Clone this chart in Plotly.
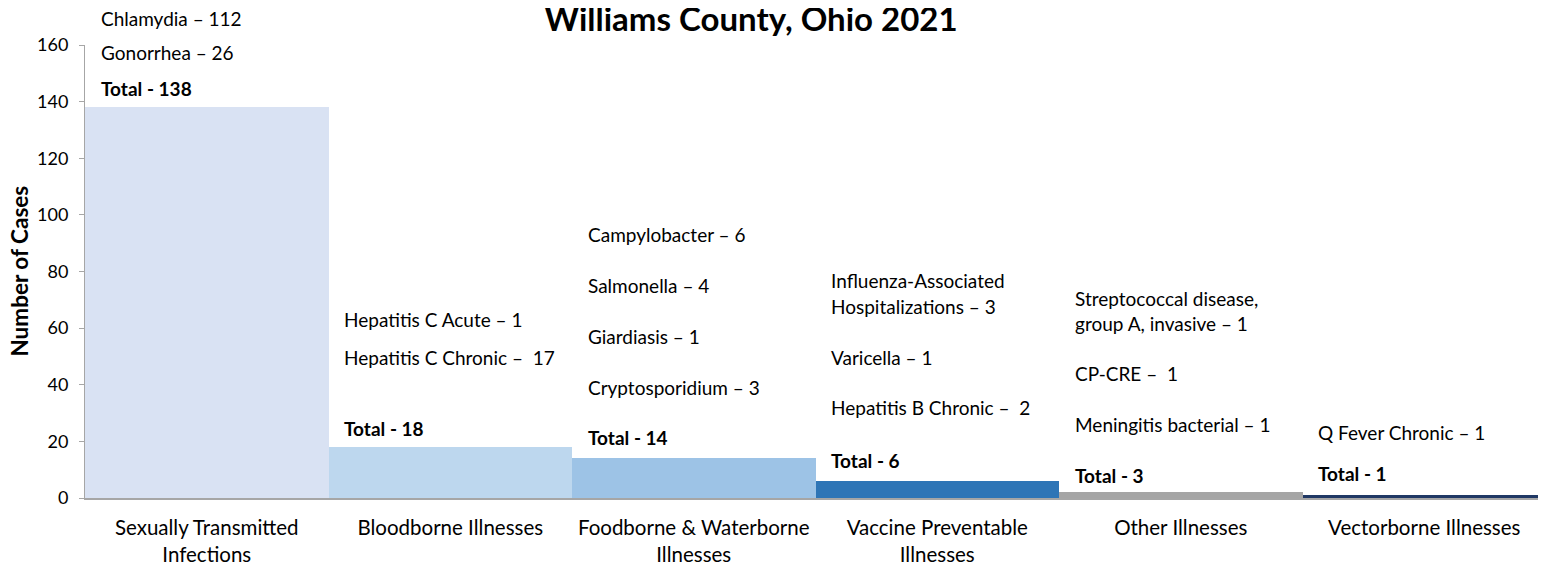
import plotly.graph_objects as go

# data
categories = ["Sexually Transmitted<br>Infections", "Bloodborne Illnesses",
              "Foodborne & Waterborne<br>Illnesses", "Vaccine Preventable<br>Illnesses",
              "Other Illnesses", "Vectorborne Illnesses"]
cases = [138, 18, 14, 6, 2, 1]
totals = ["Total - 138", "Total - 18", "Total - 14", "Total - 6", "Total - 3", "Total - 1"]
details = [
    ["Chlamydia – 112", "Gonorrhea – 26"],
    ["Hepatitis C Acute – 1", "Hepatitis C Chronic –  17"],
    ["Campylobacter – 6", "Salmonella – 4", "Giardiasis – 1", "Cryptosporidium – 3"],
    ["Influenza-Associated", "Hospitalizations – 3", "Varicella – 1", "Hepatitis B Chronic –  2"],
    ["Streptococcal disease,", "group A, invasive – 1", "CP-CRE –  1", "Meningitis bacterial – 1"],
    ["Q Fever Chronic – 1"],
]

colors = ["#D9E2F3", "#BDD7EE", "#9DC3E6", "#2E75B6", "#A5A5A5", "#1F3864"]

# label placement, in value-axis units (line by line, then the total)
detail_y = [
    [169.4, 157.2],
    [63.2, 49.8],
    [92.9, 74.9, 57.2, 39.2],
    [76.7, 67.5, 49.8, 31.8],
    [70.6, 61.5, 43.8, 25.8],
    [23.0],
]
total_y = [144.8, 24.7, 21.2, 13.4, 7.8, 8.5]
Y_MAX = 160

FONT = "Lato"
lab_font = dict(family=FONT, size=19, color="#000000")

# the page body adds an 8px margin, so the figure is sized/offset to compensate
W, H = 1538, 558

fig = go.Figure()
fig.add_trace(go.Bar(x=categories, y=cases, marker=dict(color=colors, line=dict(width=0)),
                     hoverinfo="x+y"))

annotations = []
for cat, lines, ys, tot, ty in zip(categories, details, detail_y, totals, total_y):
    for txt, yy in zip(lines, ys):
        # paper-referenced so labels above the axis range are not hidden
        annotations.append(dict(x=cat, y=yy / Y_MAX, xref="x", yref="paper", text=txt,
                                showarrow=False, xanchor="left", yanchor="middle",
                                xshift=-108, font=lab_font))
    annotations.append(dict(x=cat, y=ty / Y_MAX, xref="x", yref="paper",
                            text="<b>" + tot + "</b>", showarrow=False,
                            xanchor="left", yanchor="middle", xshift=-108, font=lab_font))

# y-axis title as an annotation so it can sit closer to the page edge
annotations.append(dict(x=0, y=0.5, xref="paper", yref="paper", xshift=-66,
                        text="<b>Number of Cases</b>", textangle=-90, showarrow=False,
                        xanchor="center", yanchor="middle",
                        font=dict(family=FONT, size=22.5, color="#000000")))

fig.update_layout(
    width=W, height=H,
    margin=dict(l=77, r=0, t=37, b=68),
    plot_bgcolor="white", paper_bgcolor="white",
    bargap=0,
    showlegend=False,
    title=dict(text="<b>Williams County, Ohio 2021</b>", x=743 / W, xanchor="center",
               y=1 - 11 / H, yanchor="middle",
               font=dict(family=FONT, size=33, color="#000000")),
    xaxis=dict(showline=True, linecolor="#A6A6A6", linewidth=1.5, ticks="",
               automargin=False, ticklabelstandoff=11,
               tickfont=dict(family=FONT, size=20.5, color="#000000")),
    yaxis=dict(range=[0, Y_MAX], dtick=20, showgrid=False, zeroline=False, showline=True,
               linecolor="#A6A6A6", ticks="outside", ticklen=5, tickcolor="#A6A6A6",
               automargin=False, ticklabelstandoff=7,
               tickfont=dict(family=FONT, size=18, color="#000000")),
    annotations=annotations,
)

fig.write_html("out.html")
